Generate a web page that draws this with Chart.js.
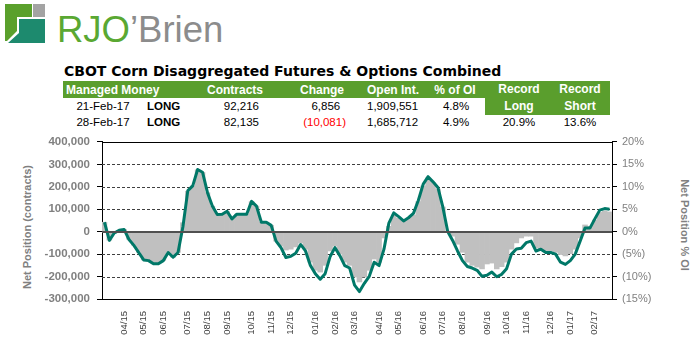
<!DOCTYPE html>
<html>
<head>
<meta charset="utf-8">
<script src="https://cdn.jsdelivr.net/npm/chart.js@4.4.0/dist/chart.umd.min.js"></script>
<style>
  body { margin: 0; width: 692px; height: 341px; overflow: hidden; background: #fff;
         font-family: 'Liberation Sans', Arial, sans-serif; position: relative; }
  .cell { position: absolute; height: 18px; line-height: 18px; white-space: nowrap; font-size: 11.5px; color: #000; }
  .axis-title { position: absolute; width: 220px; height: 14px; line-height: 14px; text-align: center;
                font-size: 11px; font-weight: bold; color: #808080; white-space: nowrap; }
  #chartBox { position: absolute; left: 0; top: 128px; }
</style>
</head>
<body>

<svg style="position:absolute;left:0;top:0" width="50" height="48">
  <rect x="5" y="4" width="27" height="13" fill="#5aa02c"/>
  <rect x="33" y="4" width="12" height="13" fill="#a3a3a3"/>
  <polygon points="5,4 17,4 17,31 7,41 5,41" fill="#5aa02c"/>
  <polygon points="19,19 45,19 45,43 8,43 19,33" fill="#1d8a6e"/>
</svg>
<div class="cell" style="left:57px;top:10px;height:40px;line-height:40px;font-size:36.5px;">
  <span style="color:#5aa832">RJO</span><span style="color:#8c8c8c">’Brien</span>
</div>

<div class="cell" style="left:64px;top:62px;font-size:14px;font-weight:bold;font-family:'DejaVu Sans',sans-serif;">CBOT Corn Disaggregated Futures &amp; Options Combined</div>

<div style="position:absolute;left:63px;top:81px;width:422px;height:17px;background:#5a9e2d"></div>
<div style="position:absolute;left:485px;top:81px;width:125px;height:34px;background:#5a9e2d"></div>

<div id="table"></div>

<div class="axis-title" style="left:-83px;top:220px;transform:rotate(-90deg)">Net Position (contracts)</div>
<div class="axis-title" style="left:575px;top:218px;transform:rotate(90deg)">Net Position % OI</div>

<canvas id="chartBox" width="692" height="213"></canvas>

<script>
// summary table
const rowDates = ['21-Feb-17', '28-Feb-17'];
const rowSide = ['LONG', 'LONG'];
const rowContracts = [92216, 82135];
const rowChange = [6856, -10081];
const rowOpenInt = [1909551, 1685712];
const rowPctOI = [4.8, 4.9];
const recordLong = 20.9;
const recordShort = 13.6;

// weekly COT reports, first one 10-Mar-15, last one 28-Feb-17
const netPosition = [
  42000, -39000, -6000, 6000, 10000, -35000, -61000, -93000, -126000, -129000,
  -143000, -143000, -129000, -93000, -114000, -93000, 22000, 183000, 204000, 277000,
  265000, 175000, 114000, 77000, 78000, 91000, 57000, 78000, 78000, 78000,
  135000, 114000, 42000, 42000, 28000, -42000, -71000, -115000, -110000, -96000,
  -57000, -86000, -151000, -187000, -212000, -187000, -112000, -71000, -107000, -151000,
  -162000, -238000, -267000, -230000, -199000, -136000, -151000, -78000, 38000,
  84000, 67000, 48000, 62000, 81000, 139000, 212000, 245000, 222000, 197000,
  110000, 1000, -39000, -86000, -129000, -155000, -162000, -172000, -199000, -194000,
  -180000, -201000, -190000, -165000, -100000, -77000, -74000, -49000, -42000, -86000,
  -78000, -93000, -93000, -100000, -136000, -146000, -129000, -100000, -42000, 16000,
  16000, 57000, 96000, 103000, 100000
];
const pctOfOI = [
  2.1, -1.9, -0.3, 0.3, 0.5, -1.7, -3.0, -4.6, -6.3, -6.4,
  -7.1, -7.1, -6.4, -4.6, -5.7, -4.6, 2.0, 9.0, 10.2, 13.8,
  13.2, 8.7, 5.7, 3.8, 3.9, 4.5, 2.9, 3.9, 3.9, 3.9,
  6.7, 5.7, 2.1, 2.1, 1.4, -2.1, -3.2, -4.1, -3.9, -3.4,
  -2.5, -3.9, -6.8, -8.6, -9.0, -7.5, -4.3, -3.2, -5.0, -6.8,
  -7.5, -10.1, -11.2, -10.1, -8.6, -6.1, -6.8, -1.4, 1.2,
  3.7, 3.0, 2.4, 3.0, 3.7, 6.7, 10.2, 12.0, 10.9, 9.5,
  5.5, 0.1, -1.0, -2.8, -4.6, -6.8, -7.5, -7.9, -8.3, -7.2,
  -7.0, -8.3, -7.8, -6.8, -3.9, -2.5, -1.4, -1.0, -1.0, -3.6,
  -3.9, -4.3, -4.3, -4.6, -5.1, -5.4, -4.9, -3.9, -1.4, 1.5,
  1.2, 2.6, 4.3, 4.6, 4.4
];
const firstReport = Date.UTC(2015, 2, 10);

const FONT = "'Liberation Sans', Arial, sans-serif";
const WEEK = 7 * 24 * 3600 * 1000;

// label the first report of every month as mm/yy
const weekLabels = netPosition.map((v, i) => {
  const d = new Date(firstReport + i * WEEK);
  const prev = new Date(firstReport + (i - 1) * WEEK);
  if (i === 0 || d.getUTCMonth() === prev.getUTCMonth()) return '';
  const mm = String(d.getUTCMonth() + 1).padStart(2, '0');
  const yy = String(d.getUTCFullYear()).slice(2);
  return mm + '/' + yy;
});

function cell(text, x, y, align, extra) {
  const el = document.createElement('div');
  el.className = 'cell';
  el.textContent = text;
  let css = 'top:' + (y - 9) + 'px;';
  if (align === 'left') css += 'left:' + x + 'px;';
  else if (align === 'right') css += 'left:' + (x - 200) + 'px;width:200px;text-align:right;';
  else css += 'left:' + (x - 100) + 'px;width:200px;text-align:center;';
  el.style.cssText = css + (extra || '');
  document.getElementById('table').appendChild(el);
  return el;
}

function fmt(n) {
  return n < 0 ? '(' + Math.abs(n).toLocaleString('en-US') + ')' : n.toLocaleString('en-US') + '\u2002';
}

function buildTable() {
  const h = 'color:#fff;font-weight:bold;font-size:12px;';
  cell('Managed Money', 66, 90, 'left', h);
  cell('Contracts', 263, 90, 'right', h);
  cell('Change', 344, 90, 'right', h);
  cell('Open Int.', 367, 90, 'left', h);
  cell('% of OI', 455, 90, 'center', h);
  cell('Record', 519, 89, 'center', h);
  cell('Long', 519, 106, 'center', h);
  cell('Record', 580, 89, 'center', h);
  cell('Short', 580, 106, 'center', h);

  const rowY = [106, 122];
  rowDates.forEach((d, i) => {
    const y = rowY[i];
    cell(d, 103, y, 'center');
    cell(rowSide[i], 147, y, 'left', 'font-weight:bold;');
    cell(rowContracts[i].toLocaleString('en-US'), 259, y, 'right');
    cell(fmt(rowChange[i]), 346, y, 'right', rowChange[i] < 0 ? 'color:#ff0000;' : '');
    cell(rowOpenInt[i].toLocaleString('en-US'), 367, y, 'left');
    cell(rowPctOI[i].toFixed(1) + '%', 456, y, 'center');
  });
  cell(recordLong.toFixed(1) + '%', 519, 122, 'center');
  cell(recordShort.toFixed(1) + '%', 580, 122, 'center');
}

// dashed guide lines under the bars, solid zero line and top frame over them
const guideLines = {
  id: 'guideLines',
  beforeDatasetsDraw(chart) {
    const { ctx, chartArea, scales } = chart;
    ctx.save();
    ctx.lineWidth = 1;
    ctx.strokeStyle = '#404040';
    ctx.setLineDash([3, 2]);
    scales.y.ticks.forEach((t) => {
      if (t.value === 0 || t.value === 400000 || t.value === -300000) return;
      const y = Math.round(scales.y.getPixelForValue(t.value)) + 0.5;
      ctx.beginPath();
      ctx.moveTo(chartArea.left, y);
      ctx.lineTo(chartArea.right, y);
      ctx.stroke();
    });
    ctx.restore();
  },
  afterDatasetsDraw(chart) {
    const { ctx, chartArea, scales } = chart;
    const y0 = Math.round(scales.y.getPixelForValue(0));
    ctx.save();
    ctx.fillStyle = '#505050';
    ctx.fillRect(chartArea.left, y0 - 1, chartArea.right - chartArea.left, 2);
    ctx.fillStyle = '#000';
    ctx.fillRect(chartArea.left, Math.round(chartArea.top), chartArea.right - chartArea.left, 1);
    ctx.restore();
  },
};

function buildChart() {
  const ctx = document.getElementById('chartBox').getContext('2d');
  new Chart(ctx, {
    type: 'bar',
    data: {
      labels: weekLabels,
      datasets: [
        {
          type: 'line',
          data: netPosition,
          yAxisID: 'y',
          borderColor: '#007868',
          borderWidth: 3,
          pointRadius: 0,
          tension: 0,
          borderJoinStyle: 'round',
          order: 0,
        },
        {
          type: 'bar',
          data: pctOfOI,
          yAxisID: 'y2',
          backgroundColor: '#c0c0c0',
          borderWidth: 0,
          barPercentage: 1,
          categoryPercentage: 1,
          order: 1,
        },
      ],
    },
    options: {
      responsive: false,
      animation: false,
      devicePixelRatio: 1,
      layout: { padding: { top: 11, left: 0, right: 0, bottom: 0 } },
      plugins: { legend: { display: false }, tooltip: { enabled: false } },
      scales: {
        x: {
          grid: { display: false },
          border: { color: '#000' },
          ticks: {
            autoSkip: false, maxRotation: 90, minRotation: 90, padding: 4,
            color: '#404040', font: { family: FONT, size: 9.5 },
          },
          afterFit: (s) => { s.height = 42; },
        },
        y: {
          position: 'left',
          min: -300000,
          max: 400000,
          grid: { drawOnChartArea: false, tickLength: 5, tickColor: '#000', lineWidth: 1 },
          border: { color: '#000' },
          ticks: {
            stepSize: 100000,
            padding: 7,
            color: '#808080',
            font: { family: FONT, size: 11.5, weight: 'bold' },
            callback: (v) => v.toLocaleString('en-US'),
          },
          afterFit: (s) => { s.width = 102; },
        },
        y2: {
          position: 'right',
          min: -15,
          max: 20,
          grid: { drawOnChartArea: false, tickLength: 5, tickColor: '#000', lineWidth: 1 },
          border: { color: '#000' },
          ticks: {
            stepSize: 5,
            padding: 5,
            color: '#808080',
            font: { family: FONT, size: 11 },
            callback: (v) => (v < 0 ? '(' + -v + '%)' : v + '%'),
          },
          afterFit: (s) => { s.width = 80; },
        },
      },
    },
    plugins: [guideLines],
  });
}

buildTable();
buildChart();
</script>
</body>
</html>
